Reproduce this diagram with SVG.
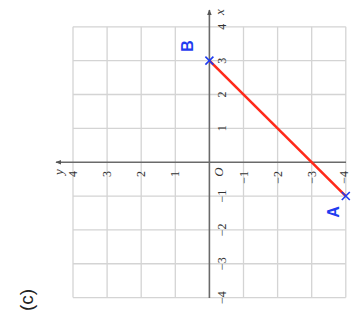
<svg xmlns="http://www.w3.org/2000/svg" width="351" height="320" viewBox="0 0 351 320">
<defs>
<style>
.grid{stroke:#d4d4d4;stroke-width:1.3;fill:none}
.axis{stroke:#6a6a6a;stroke-width:1.6;fill:none}
.num{font-family:"Liberation Serif",serif;font-size:12px;fill:#333;dominant-baseline:central}
.var{font-family:"Liberation Serif",serif;font-size:13px;font-style:italic;fill:#333;dominant-baseline:central;text-anchor:middle}
.lbl{font-family:"Liberation Sans",Arial,sans-serif;font-size:16px;font-weight:bold;fill:#1f3cf0;dominant-baseline:central;text-anchor:middle}
.pt{stroke:#1f3cf0;stroke-width:1.6}
</style>
<marker id="arr" viewBox="0 0 10 10" refX="9" refY="5" markerWidth="6" markerHeight="6" orient="auto" markerUnits="userSpaceOnUse">
<path d="M0,1 L10,5 L0,9 Z" fill="#555"/>
</marker>
</defs>
<rect width="351" height="320" fill="#fff"/>
<g id="grid" class="grid">
<path d="M73,26.8V297.6M107.1,26.8V297.6M141.2,26.8V297.6M175.3,26.8V297.6M243.5,26.8V297.6M277.6,26.8V297.6M311.7,26.8V297.6M345.8,26.8V297.6"/>
<path d="M73,26.8H345.8M73,60.65H345.8M73,94.5H345.8M73,128.35H345.8M73,196.05H345.8M73,229.9H345.8M73,263.75H345.8M73,297.6H345.8"/>
</g>
<g id="axes">
<line class="axis" x1="209.4" y1="298" x2="209.4" y2="10" marker-end="url(#arr)"/>
<line class="axis" x1="346" y1="162.2" x2="56" y2="162.2" marker-end="url(#arr)"/>
</g>
<g id="x-labels">
<text class="num" text-anchor="middle" transform="translate(222,26.8) rotate(-90)">4</text>
<text class="num" text-anchor="middle" transform="translate(222,60.65) rotate(-90)">3</text>
<text class="num" text-anchor="middle" transform="translate(222,94.5) rotate(-90)">2</text>
<text class="num" text-anchor="middle" transform="translate(222,128.35) rotate(-90)">1</text>
<text class="num" text-anchor="middle" transform="translate(222,196.05) rotate(-90)">−1</text>
<text class="num" text-anchor="middle" transform="translate(222,229.9) rotate(-90)">−2</text>
<text class="num" text-anchor="middle" transform="translate(222,263.75) rotate(-90)">−3</text>
<text class="num" text-anchor="middle" transform="translate(222,297.6) rotate(-90)">−4</text>
<text class="var" transform="translate(219,12) rotate(-90)">x</text>
</g>
<g id="y-labels">
<text class="num" text-anchor="end" transform="translate(73,171) rotate(-90)">4</text>
<text class="num" text-anchor="end" transform="translate(107.1,171) rotate(-90)">3</text>
<text class="num" text-anchor="end" transform="translate(141.2,171) rotate(-90)">2</text>
<text class="num" text-anchor="end" transform="translate(175.3,171) rotate(-90)">1</text>
<text class="num" text-anchor="end" transform="translate(243.5,171) rotate(-90)">−1</text>
<text class="num" text-anchor="end" transform="translate(277.6,171) rotate(-90)">−2</text>
<text class="num" text-anchor="end" transform="translate(311.7,171) rotate(-90)">−3</text>
<text class="num" text-anchor="end" transform="translate(343.5,171) rotate(-90)">−4</text>
<text class="var" transform="translate(58,172) rotate(-90)">y</text>
<text class="var" transform="translate(218,172) rotate(-90)">O</text>
</g>
<g id="connectors">
<line x1="209.4" y1="60.65" x2="345.8" y2="196.05" stroke="#ff2a1a" stroke-width="2.6"/>
</g>
<g id="point-B">
<path class="pt" d="M205.4,56.65L213.4,64.65M205.4,64.65L213.4,56.65"/>
<text class="lbl" transform="translate(187,46) rotate(-90)">B</text>
</g>
<g id="point-A">
<path class="pt" d="M341.8,192.05L349.8,200.05M341.8,200.05L349.8,192.05"/>
<text class="lbl" transform="translate(333,212) rotate(-90)">A</text>
</g>
<text font-family="'Liberation Sans',Arial,sans-serif" font-size="19" fill="#222" text-anchor="middle" dominant-baseline="central" transform="translate(26,300) rotate(-90)">(c)</text>
</svg>
